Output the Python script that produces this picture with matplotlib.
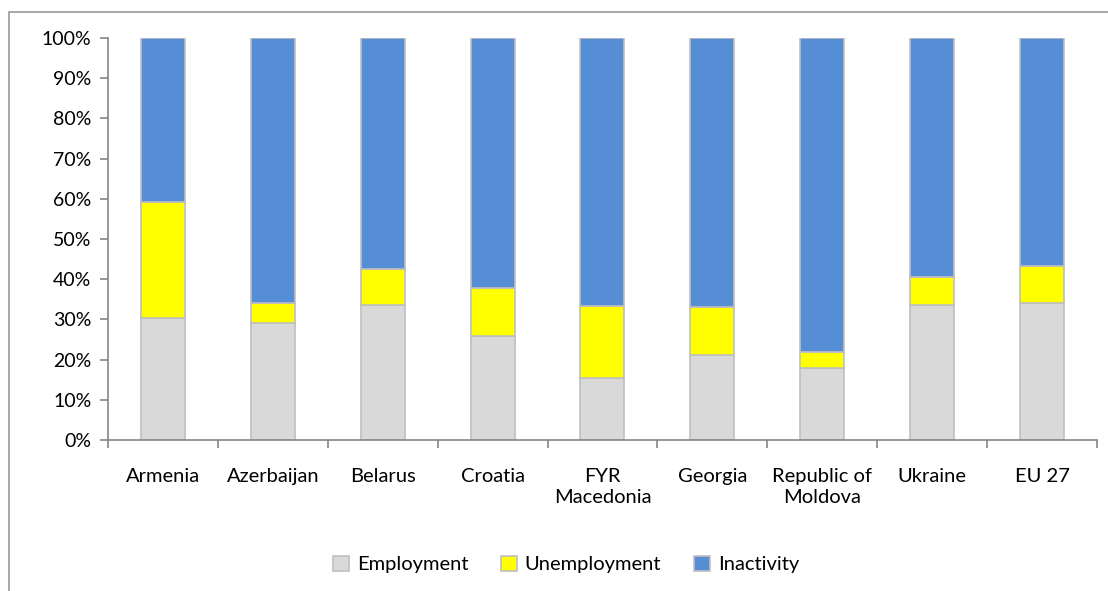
import matplotlib.pyplot as plt
import numpy as np
from matplotlib.patches import Rectangle

countries = ["Armenia", "Azerbaijan", "Belarus", "Croatia", "FYR\nMacedonia",
             "Georgia", "Republic of\nMoldova", "Ukraine", "EU 27"]
employment = [30.3, 29.2, 33.6, 25.9, 15.5, 21.2, 18.0, 33.5, 34.2]
unemployment = [29.0, 5.0, 8.9, 11.8, 17.8, 11.9, 3.9, 7.1, 9.0]
inactivity = [100 - e - u for e, u in zip(employment, unemployment)]

plt.rcParams['font.family'] = ['Lato', 'DejaVu Sans']

fig = plt.figure(figsize=(11.08, 5.91), dpi=100)
ax = fig.add_axes([0.0975, 0.2555, 0.8925, 0.6802])

# outer chart border (Excel style)
fig.patches.append(Rectangle((9 / 1108, -0.05), 1.2, 0.05 + (591 - 12) / 591,
                             transform=fig.transFigure, fill=False,
                             edgecolor="#9a9a9a", linewidth=1.2))

x = np.arange(len(countries))
w = 0.40
edge = "#bfbfbf"
ax.bar(x, employment, w, color="#d9d9d9", edgecolor=edge, linewidth=1.2, label="Employment")
ax.bar(x, unemployment, w, bottom=employment, color="#ffff00", edgecolor=edge,
       linewidth=1.2, label="Unemployment")
bottom2 = [e + u for e, u in zip(employment, unemployment)]
ax.bar(x, inactivity, w, bottom=bottom2, color="#558ed5", edgecolor=edge,
       linewidth=1.2, label="Inactivity")

ax.set_xlim(-0.5, len(countries) - 0.5)
ax.set_ylim(0, 100)
ax.set_yticks(range(0, 101, 10))
ax.set_yticklabels([f"{v}%" for v in range(0, 101, 10)], fontsize=14)
ax.set_xticks(x)
ax.set_xticklabels(countries, fontsize=14.5, linespacing=1.3)
ax.tick_params(axis="x", length=0, pad=20)
ax.set_xticks(np.arange(-0.5, len(countries)), minor=True)
ax.tick_params(axis="x", which="minor", length=6, color="#868686", width=1.2)
ax.tick_params(axis="y", length=6, color="#868686", width=1.2, pad=6)

for s in ["top", "right"]:
    ax.spines[s].set_visible(False)
for s in ["left", "bottom"]:
    ax.spines[s].set_color("#868686")
    ax.spines[s].set_linewidth(1.2)

ax.legend(loc="center", bbox_to_anchor=(0.463, -0.31), ncol=3, frameon=False,
          fontsize=14.5, handlelength=0.8, handleheight=0.8, columnspacing=1.6,
          handletextpad=0.4)

fig.savefig("out.png", dpi=100)
